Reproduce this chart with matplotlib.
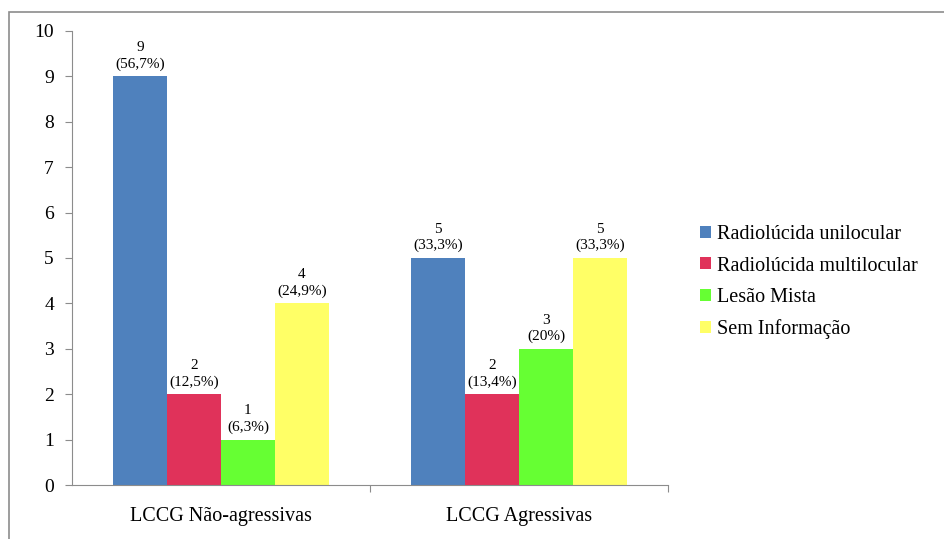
import numpy as np
import matplotlib.pyplot as plt
from matplotlib.patches import Rectangle

plt.rcParams['font.family'] = ['Liberation Serif', 'DejaVu Serif']

groups = ['LCCG Não-agressivas', 'LCCG Agressivas']
series = ['Radiolúcida unilocular', 'Radiolúcida multilocular', 'Lesão Mista', 'Sem Informação']
values = [[9, 5], [2, 2], [1, 3], [4, 5]]
pct = [['56,7%', '33,3%'], ['12,5%', '13,4%'], ['6,3%', '20%'], ['24,9%', '33,3%']]
colors = ['#4F81BD', '#E0325A', '#66FF33', '#FFFF66']

fig = plt.figure(figsize=(9.45, 5.39), dpi=100)
# chart frame
fig.patches.append(Rectangle((9/945, -0.01), 1.0, 1 - 12/539 + 0.01, transform=fig.transFigure,
                             fill=False, edgecolor='#8c8c8c', linewidth=1.2))
ax = fig.add_axes([72/945, 1 - 485/539, 596/945, 454/539])

x = np.arange(len(groups))
w = 0.181
for i in range(len(series)):
    xs = x + (i - 1.5) * w
    ax.bar(xs, values[i], width=w, color=colors[i], label=series[i])
    for j in range(len(groups)):
        ax.annotate(f"{values[i][j]}\n({pct[i][j]})", (xs[j], values[i][j]),
                    xytext=(0, 4), textcoords='offset points', ha='center', va='bottom',
                    fontsize=11, linespacing=1.3)

ax.set_xlim(-0.5, 1.5)
ax.set_ylim(0, 10)
ax.set_yticks(range(0, 11))
ax.set_xticks([0.5, 1.5], minor=False)
ax.set_xticklabels(['', ''])
ax.set_xticks(x, minor=True)
ax.set_xticklabels(groups, minor=True, fontsize=14.5)
ax.tick_params(axis='x', which='minor', length=0, pad=16)
ax.tick_params(axis='x', which='major', length=5, color='#8c8c8c')
ax.tick_params(axis='y', length=5, color='#8c8c8c', labelsize=14, pad=8)
for s in ['top', 'right']:
    ax.spines[s].set_visible(False)
for s in ['left', 'bottom']:
    ax.spines[s].set_color('#8c8c8c')

ax.legend(loc='upper left', bbox_to_anchor=(692/945, 1 - 217/539), bbox_transform=fig.transFigure,
          frameon=False, fontsize=14.5, handlelength=0.55, handleheight=0.55, handletextpad=0.3,
          labelspacing=0.62, borderaxespad=0)

fig.savefig('out.png', dpi=100)
